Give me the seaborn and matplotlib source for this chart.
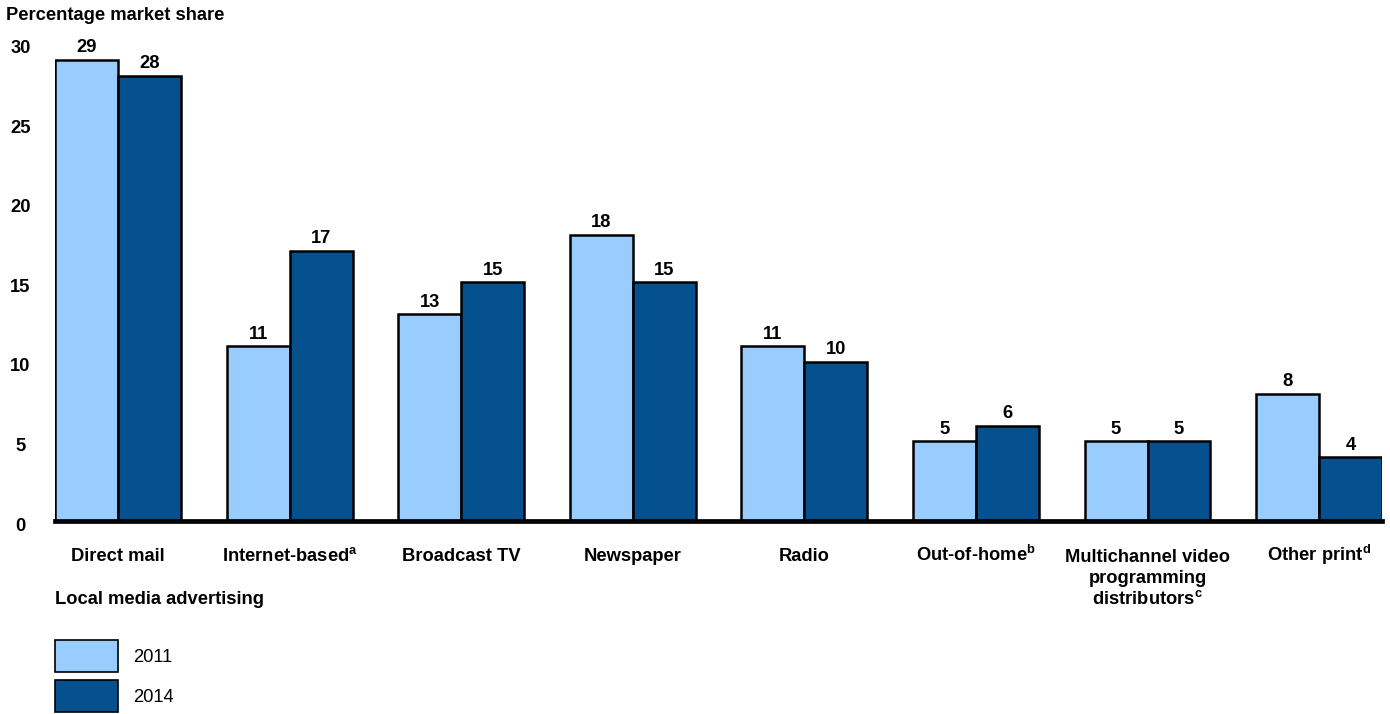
import matplotlib
matplotlib.use("Agg")
import matplotlib.pyplot as plt
import matplotlib.transforms as mtransforms
import seaborn as sns
import pandas as pd
from matplotlib.patches import Patch

categories = ["Direct mail", r"Internet-based$^{\mathbf{a}}$", "Broadcast TV", "Newspaper", "Radio",
              r"Out-of-home$^{\mathbf{b}}$", "Multichannel video\nprogramming\n" + r"distributors$^{\mathbf{c}}$",
              r"Other print$^{\mathbf{d}}$"]
share_2011 = [29, 11, 13, 18, 11, 5, 5, 8]
share_2014 = [28, 17, 15, 15, 10, 6, 5, 4]
years = ["2011", "2014"]
yticks = [0, 5, 10, 15, 20, 25, 30]

sns.set_theme(style="white")
plt.rcParams['font.family'] = ['Liberation Sans', 'DejaVu Sans']
plt.rcParams['mathtext.fontset'] = 'custom'
plt.rcParams['mathtext.rm'] = 'Liberation Sans'
plt.rcParams['mathtext.bf'] = 'Liberation Sans:bold'
plt.rcParams['text.color'] = 'black'
plt.rcParams['xtick.color'] = 'black'
plt.rcParams['ytick.color'] = 'black'

df = pd.DataFrame({
    "category": categories * 2,
    "year": [years[0]] * len(categories) + [years[1]] * len(categories),
    "share": share_2011 + share_2014,
})

colors = {"2011": "#99CCFF", "2014": "#05508F"}
fig = plt.figure(figsize=(13.9, 7.14), dpi=100)
ax = fig.add_axes([0.0396, 0.2703, 0.9547, 0.6685])
sns.barplot(data=df, x="category", y="share", hue="year", palette=colors,
            width=0.734, gap=0, edgecolor="black", linewidth=1.8, ax=ax,
            legend=False, saturation=1)

fs = 13.2
for c in ax.containers:
    ax.bar_label(c, fmt="%d", padding=2.5, fontsize=fs, fontweight="bold", color="black")

ax.set_ylim(0, 30)
ax.set_xlim(-0.367, 7.367)
ax.set_yticks(yticks)
ax.set_yticklabels([str(t) for t in yticks], fontsize=fs, fontweight="bold", ha="center")
ax.tick_params(axis="y", length=0, pad=25)
ax.tick_params(axis="x", length=0, pad=29)
shift = mtransforms.ScaledTranslation(0, -3 / 100, fig.dpi_scale_trans)
for lab in ax.get_yticklabels():
    lab.set_transform(lab.get_transform() + shift)
ls = 1.25
for lab in ax.get_xticklabels():
    lab.set_fontsize(fs)
    lab.set_fontweight("bold")
    lab.set_verticalalignment("baseline")
    lab.set_linespacing(ls)
    nlines = lab.get_text().count("\n")
    if nlines:
        down = mtransforms.ScaledTranslation(0, -(nlines * ls * fs / 72 - 3 / 100), fig.dpi_scale_trans)
        lab.set_transform(lab.get_transform() + down)
ax.set_xlabel("")
ax.set_ylabel("")
for s in ["top", "right", "left"]:
    ax.spines[s].set_visible(False)
ax.spines["bottom"].set_linewidth(3.4)
ax.spines["bottom"].set_color("black")
ax.spines["bottom"].set_zorder(5)

fig.text(0.004, 0.978, "Percentage market share", fontsize=fs, fontweight="bold", va="center", ha="left")
fig.text(0.0396, 0.160, "Local media advertising", fontsize=fs, fontweight="bold", va="center", ha="left")

handles = [Patch(facecolor=colors[y], edgecolor="black", linewidth=1.2, label=y) for y in years]
fig.legend(handles=handles, loc="upper left", bbox_to_anchor=(0.0396, 0.1036), frameon=False,
           fontsize=fs, handlelength=3.44, handleheight=2.31, labelspacing=0.436, handletextpad=0.8,
           borderpad=0, borderaxespad=0)

fig.savefig("out.png", dpi=100)
